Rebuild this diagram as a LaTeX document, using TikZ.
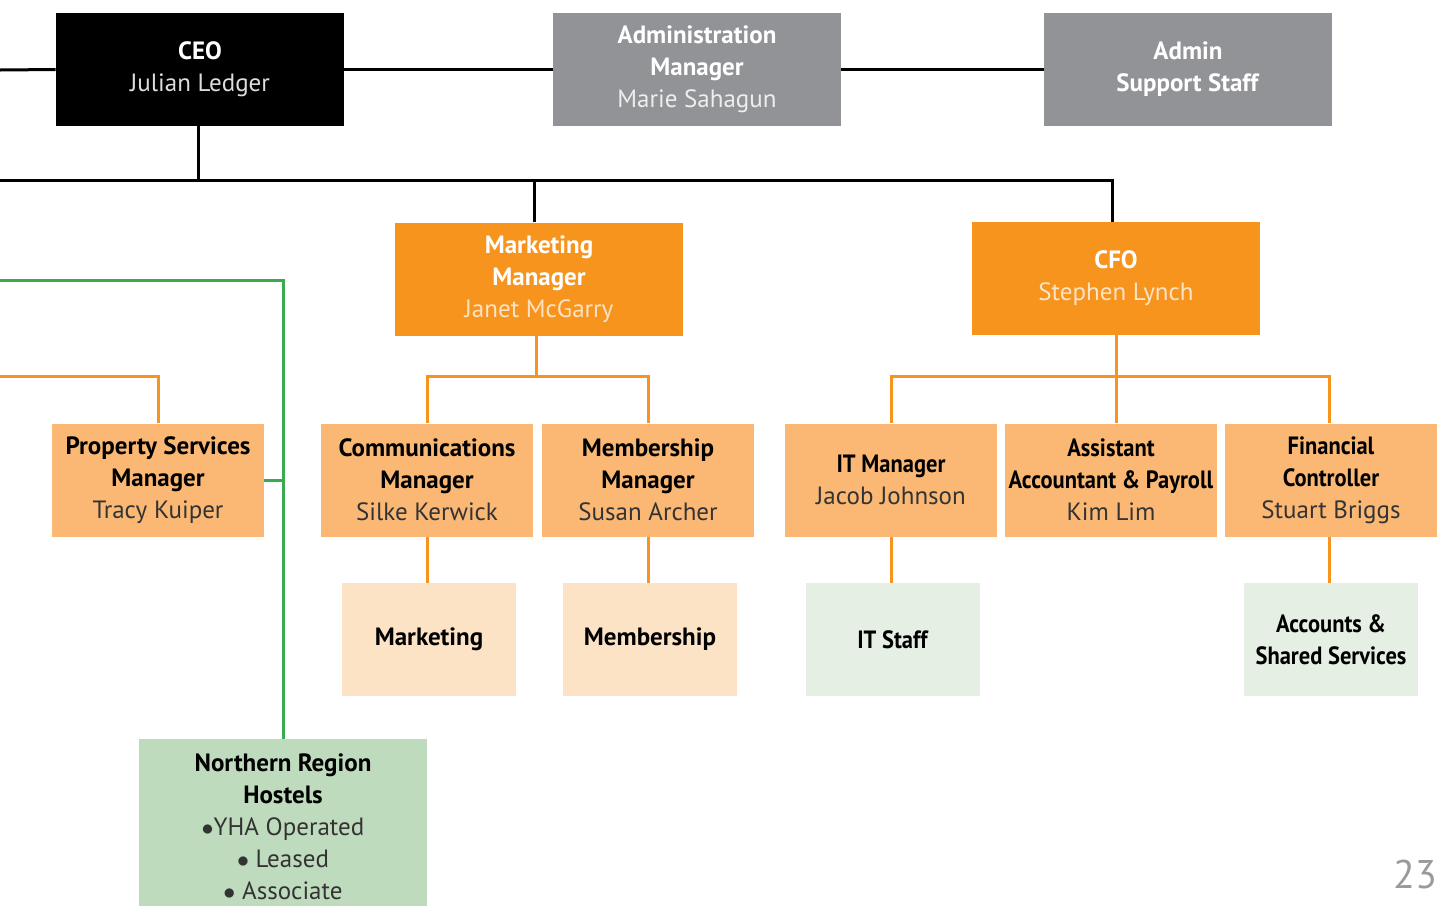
\documentclass[tikz,border=0pt]{standalone}
\usepackage{fontspec}
\setmainfont{PT Sans}
\newfontfamily\condfont[FakeStretch=0.9]{PT Sans}
\definecolor{cOrange}{HTML}{F7941E}
\definecolor{cLtOrange}{HTML}{FAB874}
\definecolor{cPaleOrange}{HTML}{FDE3C6}
\definecolor{cGrey}{HTML}{929397}
\definecolor{cPaleGreen}{HTML}{E5EFE3}
\definecolor{cGreenBox}{HTML}{BFDBBD}
\definecolor{cGreenLine}{HTML}{3AAA50}
\definecolor{cName}{HTML}{333333}
\definecolor{cPage}{HTML}{9A9A9A}
\tikzset{
  box/.style={rectangle, inner sep=0pt, align=center, font=\fontsize{12.5}{16}\selectfont},
  wide/.style={box, minimum width=144pt, minimum height=56.5pt},
  mid/.style={box, minimum width=106pt, minimum height=56.5pt},
  small/.style={box, minimum width=87pt, minimum height=56.5pt},
  darkbox/.style={wide, fill=black, text=white},
  greybox/.style={wide, fill=cGrey, text=white},
  orangebox/.style={wide, fill=cOrange, text=white},
  ltbox/.style={mid, fill=cLtOrange, text=black},
  palebox/.style={small, fill=cPaleOrange, text=black},
  pgbox/.style={small, fill=cPaleGreen, text=black},
  blk/.style={draw=black, line width=1.5pt},
  org/.style={draw=cOrange, line width=1.5pt},
  grn/.style={draw=cGreenLine, line width=1.5pt},
}
\begin{document}
\begin{tikzpicture}[x=0.5pt,y=-0.5pt]
\useasboundingbox (0,0) rectangle (1437,906);
\clip (0,0) rectangle (1437,906);
% coordinates for free ends
\coordinate (L0) at (0,70);
\coordinate (L1) at (0,180);
\coordinate (G0) at (0,280);
\coordinate (O0) at (0,376);
% top row
\node[darkbox] (ceo) at (200,69.5) {\textbf{CEO}\\{\color[HTML]{DDDDDD}Julian Ledger}};
\node[greybox] (adm) at (697,69.5) {\textbf{Administration}\\\textbf{Manager}\\{\color[HTML]{EEEEEE}Marie Sahagun}};
\node[greybox] (sup) at (1188,69.5) {\textbf{Admin}\\\textbf{Support Staff}};
% second row
\node[orangebox] (mm) at (539,279) {\textbf{Marketing}\\\textbf{Manager}\\{\color{cPaleOrange}Janet McGarry}};
\node[orangebox] (cfo) at (1116,278.5) {\textbf{CFO}\\{\color{cPaleOrange}Stephen Lynch}};
% third row
\node[ltbox] (psm) at (158,480) {\textbf{Property Services}\\\textbf{Manager}\\{\color{cName}Tracy Kuiper}};
\node[ltbox] (cm) at (427,480) {\textbf{Communications}\\\textbf{Manager}\\{\color{cName}Silke Kerwick}};
\node[ltbox] (msm) at (648,480) {\textbf{Membership}\\\textbf{Manager}\\{\color{cName}Susan Archer}};
\node[ltbox] (itm) at (891,480) {{\condfont\textbf{IT Manager}}\\{\color{cName}Jacob Johnson}};
\node[ltbox] (aap) at (1111,480) {{\condfont\textbf{Assistant}}\\{\condfont\textbf{Accountant \& Payroll}}\\{\color{cName}Kim Lim}};
\node[ltbox] (fc) at (1331,480) {{\condfont\textbf{Financial}}\\{\condfont\textbf{Controller}}\\{\color{cName}Stuart Briggs}};
% fourth row
\node[palebox] (mkt) at (429,639.5) {\textbf{Marketing}};
\node[palebox] (mem) at (650,639.5) {\textbf{Membership}};
\node[pgbox] (its) at (893,639.5) {{\condfont\textbf{IT Staff}}};
\node[pgbox] (acc) at (1331,639.5) {{\condfont\textbf{Accounts \&}}\\{\condfont\textbf{Shared Services}}};
% northern region
\node[box, minimum width=144pt, minimum height=88pt, fill=cGreenBox, text=black] (nrh) at (283,827)
  {\textbf{Northern Region}\\\textbf{Hostels}\\{\color{cName}$\bullet$YHA Operated}\\{\color{cName}$\bullet$ Leased}\\{\color{cName}$\bullet$ Associate}};
% page number
\node[inner sep=0pt, text=cPage, font=\fontsize{20}{24}\selectfont] (pg) at (1415,874) {23};
% black connectors
\draw[blk] (L0) -- (ceo.west);
\draw[blk] (ceo.east) -- (adm.west);
\draw[blk] (adm.east) -- (sup.west);
\draw[blk] ([xshift=-1pt]ceo.south) -- ([xshift=-1pt]ceo.south |- L1);
\draw[blk] (L1) -| ([xshift=-2pt]cfo.north);
\draw[blk] ([xshift=-2.5pt]mm.north |- L1) -- ([xshift=-2.5pt]mm.north);
% green connectors
\draw[grn] (G0) -| (nrh.north);
\draw[grn] (psm.east) -- (psm.east -| nrh.north);
% orange connectors
\draw[org] (O0) -| (psm.north);
\draw[org] ([xshift=-1.5pt]mm.south) -- ([xshift=-1.5pt]mm.south |- O0);
\draw[org] (cm.north) -- (cm.north |- O0) -- (msm.north |- O0) -- (msm.north);
\draw[org] (cm.south) -- (cm.south |- mkt.north);
\draw[org] (msm.south) -- (msm.south |- mem.north);
\draw[org] (cfo.south) -- (cfo.south |- aap.north);
\draw[org] (itm.north) -- (itm.north |- O0) -- ([xshift=-1pt]fc.north |- O0) -- ([xshift=-1pt]fc.north);
\draw[org] (itm.south) -- (itm.south |- its.north);
\draw[org] ([xshift=-1pt]fc.south) -- ([xshift=-1pt]fc.south |- acc.north);
\end{tikzpicture}
\end{document}
